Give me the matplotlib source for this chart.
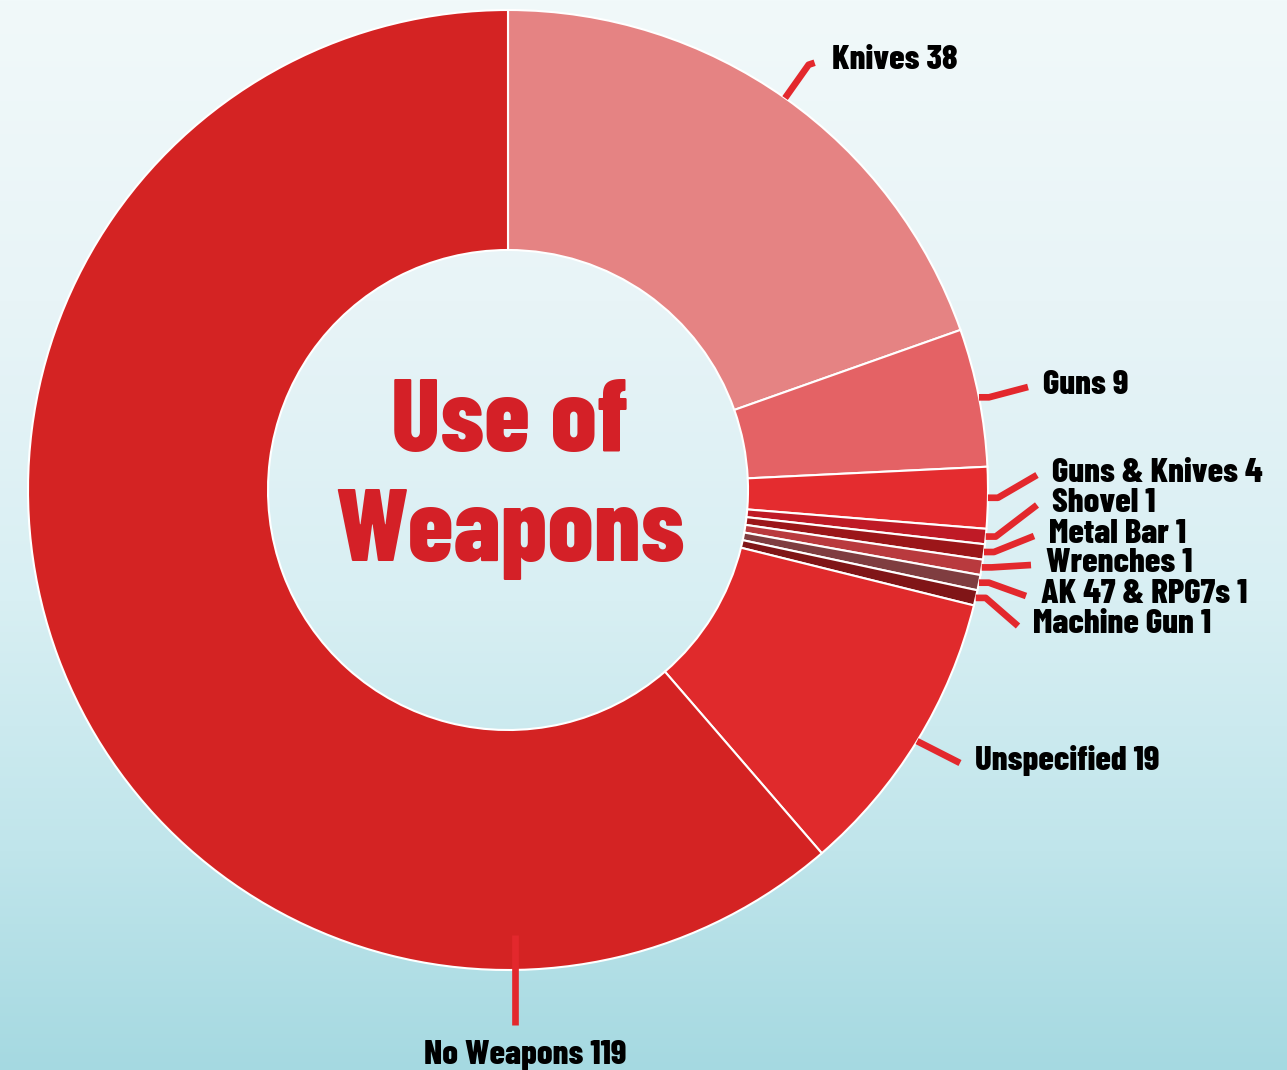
import numpy as np
import matplotlib
matplotlib.use("Agg")
import matplotlib.pyplot as plt

categories = ["Knives", "Guns", "Guns & Knives", "Shovel", "Metal Bar", "Wrenches",
              "AK 47 & RPG7s", "Machine Gun", "Unspecified", "No Weapons"]
values = [38, 9, 4, 1, 1, 1, 1, 1, 19, 119]
colors = ["#E58383", "#E46265", "#E42C2F", "#BF1A26", "#9B1619", "#B93A3E",
          "#7F3D40", "#801517", "#E02A2C", "#D42323"]

W, H = 1287, 1070
FONT = ["Barlow Condensed", "DejaVu Sans"]

fig = plt.figure(figsize=(W / 100, H / 100), dpi=100)
ax = fig.add_axes([0, 0, 1, 1])

# background gradient (light at top, teal at bottom)
stops_y = [0, 300, 600, 850, 1070]
stops_c = np.array([[241, 249, 250], [232, 244, 247], [216, 239, 243],
                    [192, 229, 235], [165, 217, 225]]) / 255.0
ys = np.arange(H)
grad = np.stack([np.interp(ys, stops_y, stops_c[:, i]) for i in range(3)], axis=1)
img = np.repeat(grad[:, None, :], 2, axis=1)
ax.imshow(img, extent=[0, W, 0, H], aspect="auto", zorder=0, origin="upper")

cx, cy, R = 508, H - 490, 480
wedges, _ = ax.pie(values, colors=colors, startangle=90, counterclock=False,
                   radius=R, center=(cx, cy), frame=True,
                   wedgeprops=dict(width=240, edgecolor="white", linewidth=1.5))
for w in wedges:
    w.set_zorder(2)
ax.set_xlim(0, W)
ax.set_ylim(0, H)
ax.set_aspect("equal")
ax.axis("off")

# label anchor positions (pixel coords, top-left origin)
label_pos = [(832, 60), (1043, 385), (1052, 473), (1052, 503), (1049, 534),
             (1046, 563), (1041, 594), (1033, 624), (975, 760)]
line_col = "#E3282D"
LW = 4.8
FS = 25
for w, cat, val, (lx, ly) in zip(wedges, categories, values, label_pos):
    ang = np.deg2rad((w.theta1 + w.theta2) / 2)
    x0 = cx + R * np.cos(ang)
    y0 = cy + R * np.sin(ang)
    ly_d = H - ly
    if cat == "Knives":
        x1 = cx + 1.085 * R * np.cos(ang)
        y1 = cy + 1.085 * R * np.sin(ang)
        xs = [x0, x1, x1 + 6]
        yy = [y0, y1, y1 + 2]
    elif cat == "Unspecified":
        xs = [x0, lx - 15]
        yy = [y0, ly_d - 3]
    else:
        xs = [x0, x0 + 10, lx - 15]
        yy = [y0, y0, ly_d - 2]
    ax.plot(xs, yy, color=line_col, lw=LW, solid_capstyle="butt",
            solid_joinstyle="round", zorder=3)
    ax.text(lx, ly_d, f"{cat} {val}", ha="left", va="center", fontsize=FS,
            fontweight="heavy", family=FONT, color="black", zorder=4)

# No Weapons label at the bottom
ax.plot([515, 515], [H - 935, H - 1025], color=line_col, lw=LW,
        solid_capstyle="butt", zorder=3)
ax.text(525, H - 1055, f"{categories[-1]} {values[-1]}", ha="center", va="center",
        fontsize=FS, fontweight="heavy", family=FONT, color="black", zorder=4)

# centre title
ax.text(cx + 2, H - 425, "Use of", ha="center", va="center", fontsize=74,
        fontweight="heavy", family=FONT, color="#D42027", zorder=4)
ax.text(cx + 2, H - 535, "Weapons", ha="center", va="center", fontsize=74,
        fontweight="heavy", family=FONT, color="#D42027", zorder=4)

fig.savefig("out.png", dpi=100)
